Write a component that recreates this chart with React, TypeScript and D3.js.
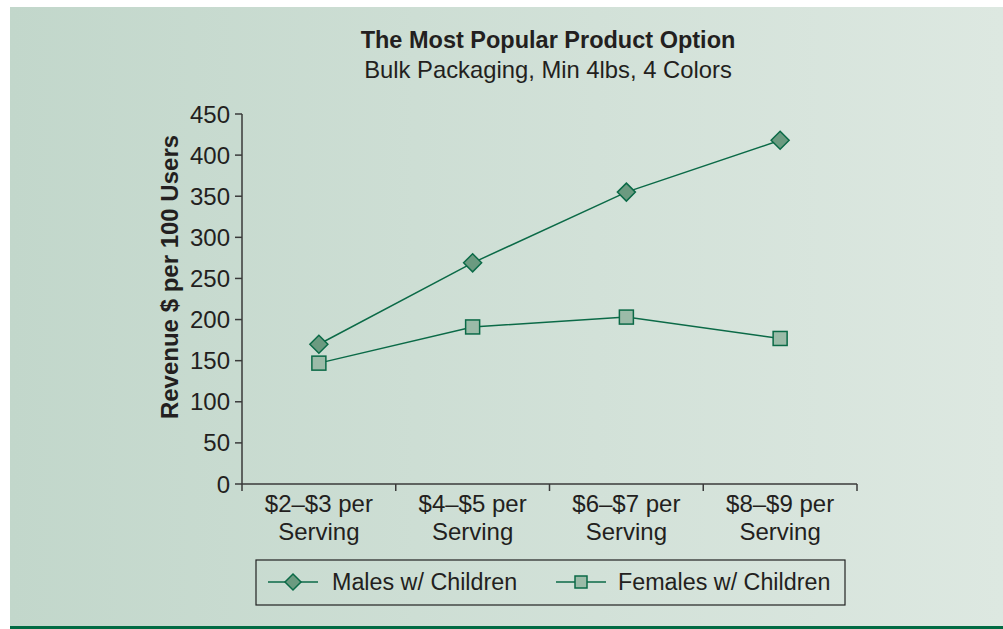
import { useEffect, useRef } from 'react';
import * as d3 from 'd3';

const categories = [['$2–$3 per', 'Serving'], ['$4–$5 per', 'Serving'], ['$6–$7 per', 'Serving'], ['$8–$9 per', 'Serving']];
const males = [170, 269, 355, 418];
const females = [147, 191, 203, 177];
const yTicks = [0, 50, 100, 150, 200, 250, 300, 350, 400, 450];
const seriesNames = ['Males w/ Children', 'Females w/ Children'];

const W = 1003;
const H = 629;
const LINE = '#0b6a47';
const TEXT = '#231f20';
const FONT = '"Liberation Sans", Arial, sans-serif';

export default function App() {
  const svgRef = useRef<SVGSVGElement>(null);

  useEffect(() => {
    const svg = d3.select(svgRef.current);
    svg.selectAll('*').remove();

    // background panel
    const defs = svg.append('defs');
    const grad = defs.append('linearGradient')
      .attr('id', 'bg-grad')
      .attr('x1', '0%').attr('y1', '0%').attr('x2', '100%').attr('y2', '0%');
    grad.append('stop').attr('offset', '0%').attr('stop-color', '#c2d7cb');
    grad.append('stop').attr('offset', '100%').attr('stop-color', '#dde8e1');

    svg.append('rect').attr('x', 0).attr('y', 0).attr('width', W).attr('height', H).attr('fill', '#fff');
    svg.append('rect').attr('x', 10).attr('y', 7).attr('width', W - 10).attr('height', 619).attr('fill', 'url(#bg-grad)');
    svg.append('rect').attr('x', 10).attr('y', 626).attr('width', W - 10).attr('height', 3).attr('fill', '#016b43');

    const left = 242, right = 857, top = 114, bottom = 484;

    const x = d3.scaleBand<number>()
      .domain(d3.range(categories.length))
      .range([left, right]);
    const y = d3.scaleLinear().domain([0, 450]).range([bottom, top]);

    // titles
    svg.append('text')
      .attr('x', 548).attr('y', 48)
      .attr('text-anchor', 'middle')
      .style('font-family', FONT).style('font-size', '23.5px').style('font-weight', 'bold')
      .style('fill', TEXT)
      .text('The Most Popular Product Option');
    svg.append('text')
      .attr('x', 548).attr('y', 78)
      .attr('text-anchor', 'middle')
      .style('font-family', FONT).style('font-size', '23.8px')
      .style('fill', TEXT)
      .text('Bulk Packaging, Min 4lbs, 4 Colors');

    // y axis
    const axisColor = '#3a3a3a';
    svg.append('line')
      .attr('x1', left).attr('x2', left).attr('y1', top).attr('y2', bottom + 7)
      .attr('stroke', axisColor).attr('stroke-width', 1.5);
    const yt = svg.append('g');
    yt.selectAll('line').data(yTicks).enter().append('line')
      .attr('x1', left - 7).attr('x2', left)
      .attr('y1', d => y(d)).attr('y2', d => y(d))
      .attr('stroke', axisColor).attr('stroke-width', 1.5);
    yt.selectAll('text').data(yTicks).enter().append('text')
      .attr('x', left - 12).attr('y', d => y(d) + 8.5)
      .attr('text-anchor', 'end')
      .style('font-family', FONT).style('font-size', '24px').style('fill', TEXT)
      .text(d => d);

    svg.append('text')
      .attr('transform', `translate(178,277) rotate(-90)`)
      .attr('text-anchor', 'middle')
      .style('font-family', FONT).style('font-size', '24px').style('font-weight', 'bold')
      .style('fill', TEXT)
      .text('Revenue $ per 100 Users');

    // x axis
    svg.append('line')
      .attr('x1', left).attr('x2', right).attr('y1', bottom).attr('y2', bottom)
      .attr('stroke', axisColor).attr('stroke-width', 1.5);
    const bounds = d3.range(categories.length + 1).map(i => i < categories.length ? (x(i) as number) : right);
    svg.append('g').selectAll('line').data(bounds.slice(1)).enter().append('line')
      .attr('x1', d => d).attr('x2', d => d).attr('y1', bottom).attr('y2', bottom + 7)
      .attr('stroke', axisColor).attr('stroke-width', 1.5);
    const xl = svg.append('g').selectAll('text').data(categories).enter().append('text')
      .attr('text-anchor', 'middle')
      .style('font-family', FONT).style('font-size', '24px').style('fill', TEXT);
    xl.append('tspan')
      .attr('x', (_, i) => (x(i) as number) + x.bandwidth() / 2).attr('y', 512)
      .text(d => d[0]);
    xl.append('tspan')
      .attr('x', (_, i) => (x(i) as number) + x.bandwidth() / 2).attr('y', 540)
      .text(d => d[1]);

    const cx = (i: number) => (x(i) as number) + x.bandwidth() / 2;
    const line = d3.line<number>().x((_, i) => cx(i)).y(d => y(d));

    const drawDiamond = (g: any, px: number, py: number) =>
      g.append('path')
        .attr('d', `M${px},${py - 9}L${px + 9},${py}L${px},${py + 9}L${px - 9},${py}Z`)
        .attr('fill', '#6b9a80').attr('stroke', LINE).attr('stroke-width', 1.5);
    const drawSquare = (g: any, px: number, py: number) =>
      g.append('rect')
        .attr('x', px - 7).attr('y', py - 7).attr('width', 14).attr('height', 14)
        .attr('fill', '#9bbba8').attr('stroke', LINE).attr('stroke-width', 1.5);

    const plot = svg.append('g');
    plot.append('path').datum(females).attr('d', line)
      .attr('fill', 'none').attr('stroke', LINE).attr('stroke-width', 1.5);
    plot.append('path').datum(males).attr('d', line)
      .attr('fill', 'none').attr('stroke', LINE).attr('stroke-width', 1.5);
    females.forEach((v, i) => drawSquare(plot, cx(i), y(v)));
    males.forEach((v, i) => drawDiamond(plot, cx(i), y(v)));

    // legend
    const lg = svg.append('g');
    lg.append('rect')
      .attr('x', 256).attr('y', 560).attr('width', 589).attr('height', 45)
      .attr('fill', 'none').attr('stroke', '#222').attr('stroke-width', 1.2);
    const items = [
      { x: 268, textX: 332 },
      { x: 556, textX: 618 },
    ];
    items.forEach((it, i) => {
      lg.append('line')
        .attr('x1', it.x).attr('x2', it.x + 50).attr('y1', 582).attr('y2', 582)
        .attr('stroke', LINE).attr('stroke-width', 1.5);
      if (i === 0) {
        lg.append('path')
          .attr('d', `M${it.x + 25},${582 - 8}L${it.x + 33},582L${it.x + 25},${582 + 8}L${it.x + 17},582Z`)
          .attr('fill', '#6b9a80').attr('stroke', LINE).attr('stroke-width', 1.5);
      } else {
        lg.append('rect')
          .attr('x', it.x + 25 - 6).attr('y', 576).attr('width', 12).attr('height', 12)
          .attr('fill', '#9bbba8').attr('stroke', LINE).attr('stroke-width', 1.5);
      }
      lg.append('text')
        .attr('x', it.textX).attr('y', 590)
        .style('font-family', FONT).style('font-size', '23.3px').style('fill', TEXT)
        .text(seriesNames[i]);
    });
  }, []);

  return (
    <svg
      ref={svgRef}
      width={W}
      height={H}
      style={{ position: 'absolute', left: 0, top: 0, display: 'block' }}
    />
  );
}
